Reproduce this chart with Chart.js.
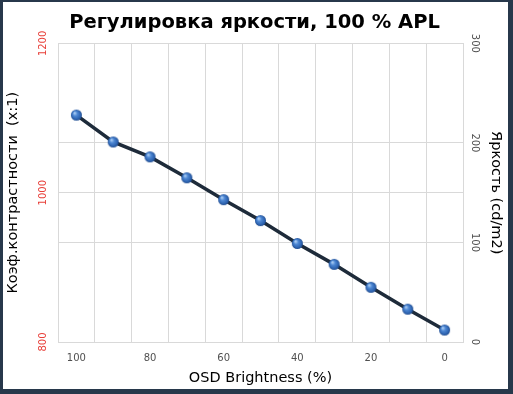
<!DOCTYPE html>
<html>
<head>
<meta charset="utf-8">
<script src="https://cdn.jsdelivr.net/npm/chart.js@4/dist/chart.umd.min.js"></script>
<style>
  html, body { margin: 0; padding: 0; background: #27384B; }
  #wrap { width: 513px; height: 394px; position: relative; }
  canvas { display: block; }
</style>
</head>
<body>
<div id="wrap"><canvas id="c" width="513" height="394"></canvas></div>
<script>
const osdLabels = ['100', '90', '80', '70', '60', '50', '40', '30', '20', '10', '0'];
const brightness = [228, 201, 186, 165, 143, 122, 99, 78, 55, 33, 12];
const contrastTicks = [800, 1000, 1200];
const brightnessTicks = [0, 100, 200, 300];

const titleText = 'Регулировка яркости, 100 % APL';
const leftTitle = 'Коэф.контрастности  (x:1)';
const rightTitle = 'Яркость (cd/m2)';
const xTitle = 'OSD Brightness (%)';

function makeSphere(r) {
  const s = r * 2 + 2;
  const cv = document.createElement('canvas');
  cv.width = s; cv.height = s;
  const g = cv.getContext('2d');
  const c = s / 2;
  const grad = g.createRadialGradient(c - r * 0.35, c - r * 0.4, r * 0.1, c, c, r);
  grad.addColorStop(0, '#A9CBF2');
  grad.addColorStop(0.35, '#4E88D4');
  grad.addColorStop(0.8, '#2D63B0');
  grad.addColorStop(1, '#1F4A8C');
  g.beginPath();
  g.arc(c, c, r, 0, Math.PI * 2);
  g.fillStyle = grad;
  g.fill();
  return cv;
}
const sphere = makeSphere(5.5);

const framePlugin = {
  id: 'frame',
  beforeDraw(chart) {
    const ctx = chart.ctx;
    ctx.save();
    ctx.fillStyle = '#27384B';
    ctx.fillRect(0, 0, chart.width, chart.height);
    ctx.fillStyle = '#FFFFFF';
    ctx.fillRect(3, 2, 505, 387);
    ctx.restore();
  }
};

const gridColor = '#D9D9D9';
const fontFam = "'DejaVu Sans', Verdana, sans-serif";

new Chart(document.getElementById('c'), {
  type: 'line',
  data: {
    labels: osdLabels,
    datasets: [{
      label: rightTitle,
      data: brightness,
      yAxisID: 'y1',
      borderColor: '#1E2B3A',
      borderWidth: 3.5,
      pointStyle: sphere,
      pointRadius: 5.5,
      pointHoverRadius: 5.5,
      tension: 0,
      fill: false
    }]
  },
  options: {
    responsive: false,
    animation: false,
    events: [],
    layout: { padding: { left: 5, right: 9, top: 0, bottom: 7 } },
    plugins: {
      legend: { display: false },
      tooltip: { enabled: false },
      title: {
        display: true,
        text: titleText,
        color: '#000000',
        font: { family: fontFam, size: 19.5, weight: 'bold' },
        padding: { top: 11, bottom: 9 }
      }
    },
    scales: {
      x: {
        type: 'category',
        offset: true,
        grid: { color: gridColor, offset: true, drawTicks: false, lineWidth: 1 },
        border: { color: gridColor },
        ticks: {
          autoSkip: false,
          maxRotation: 0,
          minRotation: 0,
          padding: 10,
          color: '#505050',
          font: { family: fontFam, size: 10 },
          callback: function (v, i) { return i % 2 === 0 ? osdLabels[i] : ''; }
        },
        title: {
          display: true,
          text: xTitle,
          color: '#000000',
          font: { family: fontFam, size: 14.5 },
          padding: { top: 0, bottom: 0 }
        },
        afterFit(scale) { scale.height = 45; }
      },
      y: {
        position: 'left',
        min: 800,
        max: 1200,
        afterBuildTicks(scale) { scale.ticks = contrastTicks.map(v => ({ value: v })); },
        grid: { color: gridColor, drawTicks: false },
        border: { color: gridColor },
        ticks: {
          color: '#E8403A',
          font: { family: fontFam, size: 10 },
          minRotation: 90,
          maxRotation: 90,
          crossAlign: 'center',
          padding: 2,
          callback: v => String(v)
        },
        title: {
          display: true,
          text: leftTitle,
          color: '#000000',
          font: { family: fontFam, size: 14.5 },
          padding: { top: 0, bottom: 0 }
        },
        afterFit(scale) { scale.width = 53; }
      },
      y1: {
        position: 'right',
        min: 0,
        max: 300,
        afterBuildTicks(scale) { scale.ticks = brightnessTicks.map(v => ({ value: v })); },
        grid: { color: gridColor, drawTicks: false },
        border: { color: gridColor },
        ticks: {
          color: '#505050',
          font: { family: fontFam, size: 10 },
          minRotation: -90,
          maxRotation: -90,
          crossAlign: 'center',
          padding: 2,
          callback: v => String(v)
        },
        title: {
          display: true,
          text: rightTitle,
          color: '#000000',
          font: { family: fontFam, size: 14.5 },
          padding: { top: 0, bottom: 0 }
        },
        afterFit(scale) { scale.width = 41; }
      }
    }
  },
  plugins: [framePlugin]
});
</script>
</body>
</html>
